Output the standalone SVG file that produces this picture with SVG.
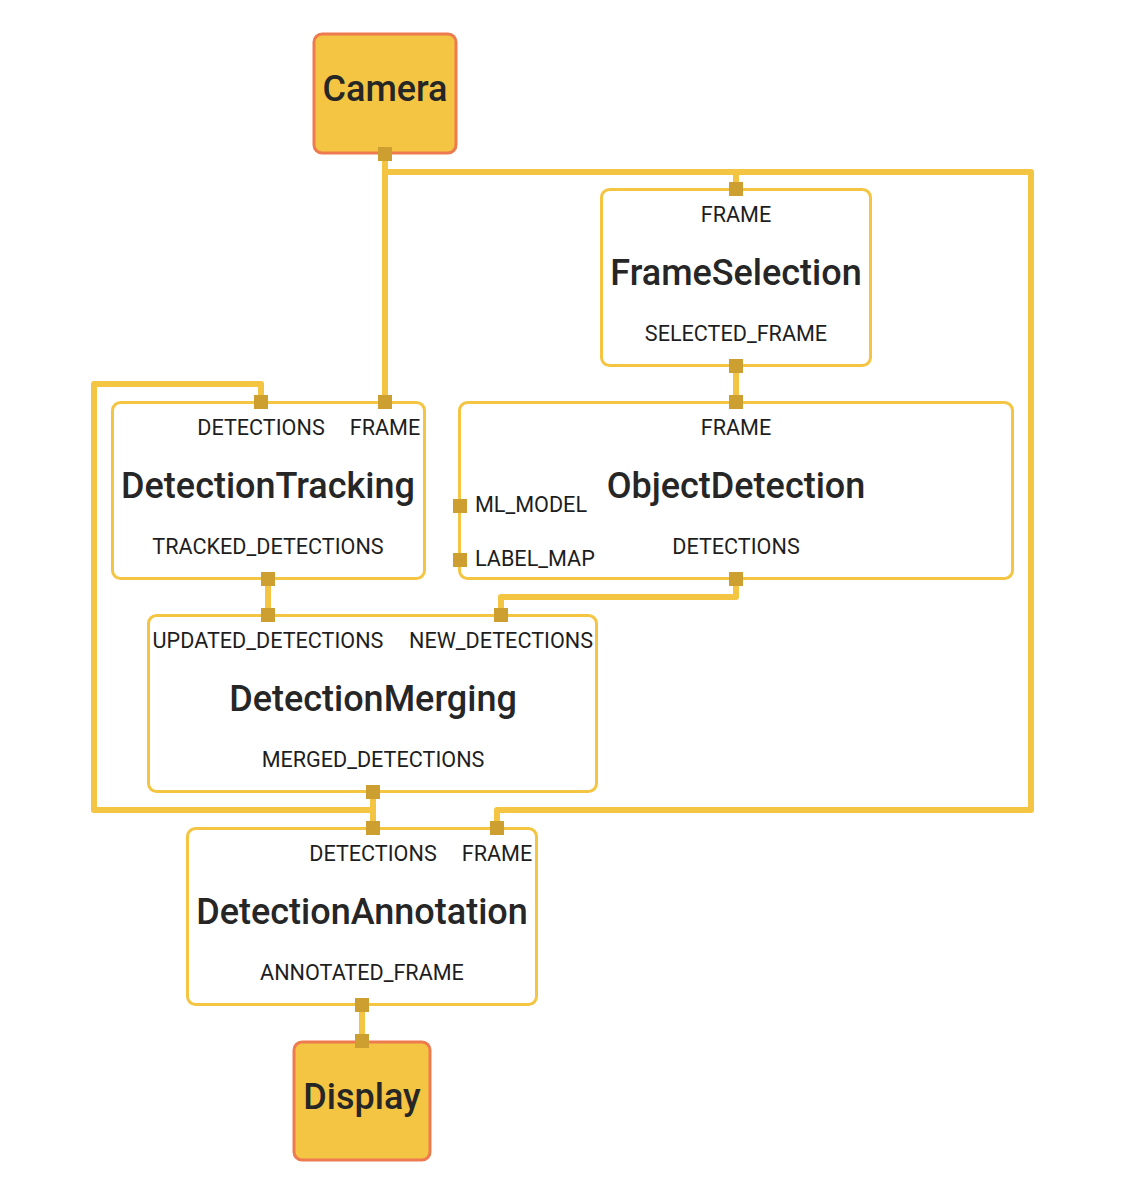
<svg xmlns="http://www.w3.org/2000/svg" width="1132" height="1198" viewBox="0 0 1132 1198">
<style>
.node{fill:#ffffff;stroke:#F4C542;stroke-width:3}
.io{fill:#F4C542;stroke:#EE7B4F;stroke-width:3}
.edge{fill:none;stroke:#F4C542;stroke-width:6;stroke-linejoin:round}
.port{fill:#CC9F30}
.title{font-family:Roboto,"Liberation Sans",sans-serif;font-size:36px;font-weight:500;fill:#262626;text-anchor:middle}
.lbl{font-family:Roboto,"Liberation Sans",sans-serif;font-size:21.6px;fill:#1e1e1e;text-anchor:middle}
.lbls{font-family:Roboto,"Liberation Sans",sans-serif;font-size:21.6px;fill:#1e1e1e;text-anchor:start}
</style>
<rect width="1132" height="1198" fill="#ffffff"/>
<g id="connectors">
<path class="edge" d="M385,154 V402"/>
<path class="edge" d="M385,172 H1031 V810 H497 V828"/>
<path class="edge" d="M736,172 V189"/>
<path class="edge" d="M736,366 V402"/>
<path class="edge" d="M268,579 V615"/>
<path class="edge" d="M736,579 V597 H501 V615"/>
<path class="edge" d="M373,792 V828"/>
<path class="edge" d="M373,810 H94 V384 H261 V402"/>
<path class="edge" d="M362,1005 V1041"/>
</g>
<g id="Camera">
<rect class="io" x="314" y="34" width="142" height="119" rx="8"/>
<text class="title" x="385" y="101">Camera</text>
<rect class="port" x="378" y="147" width="14" height="14"/>
</g>
<g id="FrameSelection">
<rect class="node" x="601.5" y="189.5" width="269" height="176" rx="8"/>
<text class="lbl" x="736" y="222">FRAME</text>
<text class="title" x="736" y="285">FrameSelection</text>
<text class="lbl" x="736" y="341">SELECTED_FRAME</text>
<rect class="port" x="729" y="182" width="14" height="14"/>
<rect class="port" x="729" y="359" width="14" height="14"/>
</g>
<g id="DetectionTracking">
<rect class="node" x="112.5" y="402.5" width="312" height="176" rx="8"/>
<text class="lbl" x="261" y="435">DETECTIONS</text>
<text class="lbl" x="385" y="435">FRAME</text>
<text class="title" x="268" y="498">DetectionTracking</text>
<text class="lbl" x="268" y="554">TRACKED_DETECTIONS</text>
<rect class="port" x="254" y="395" width="14" height="14"/>
<rect class="port" x="378" y="395" width="14" height="14"/>
<rect class="port" x="261" y="572" width="14" height="14"/>
</g>
<g id="ObjectDetection">
<rect class="node" x="459.5" y="402.5" width="553" height="176" rx="8"/>
<text class="lbl" x="736" y="435">FRAME</text>
<text class="title" x="736" y="498">ObjectDetection</text>
<text class="lbls" x="475" y="512">ML_MODEL</text>
<text class="lbls" x="475" y="566">LABEL_MAP</text>
<text class="lbl" x="736" y="554">DETECTIONS</text>
<rect class="port" x="729" y="395" width="14" height="14"/>
<rect class="port" x="453" y="499" width="14" height="14"/>
<rect class="port" x="453" y="553" width="14" height="14"/>
<rect class="port" x="729" y="572" width="14" height="14"/>
</g>
<g id="DetectionMerging">
<rect class="node" x="148.5" y="615.5" width="448" height="176" rx="8"/>
<text class="lbl" x="268" y="648">UPDATED_DETECTIONS</text>
<text class="lbl" x="501" y="648">NEW_DETECTIONS</text>
<text class="title" x="373" y="711">DetectionMerging</text>
<text class="lbl" x="373" y="767">MERGED_DETECTIONS</text>
<rect class="port" x="261" y="608" width="14" height="14"/>
<rect class="port" x="494" y="608" width="14" height="14"/>
<rect class="port" x="366" y="785" width="14" height="14"/>
</g>
<g id="DetectionAnnotation">
<rect class="node" x="187.5" y="828.5" width="349" height="176" rx="8"/>
<text class="lbl" x="373" y="861">DETECTIONS</text>
<text class="lbl" x="497" y="861">FRAME</text>
<text class="title" x="362" y="924">DetectionAnnotation</text>
<text class="lbl" x="362" y="980">ANNOTATED_FRAME</text>
<rect class="port" x="366" y="821" width="14" height="14"/>
<rect class="port" x="490" y="821" width="14" height="14"/>
<rect class="port" x="355" y="998" width="14" height="14"/>
</g>
<g id="Display">
<rect class="io" x="294" y="1042" width="136" height="118" rx="8"/>
<text class="title" x="362" y="1109">Display</text>
<rect class="port" x="355" y="1034" width="14" height="14"/>
</g>
</svg>
